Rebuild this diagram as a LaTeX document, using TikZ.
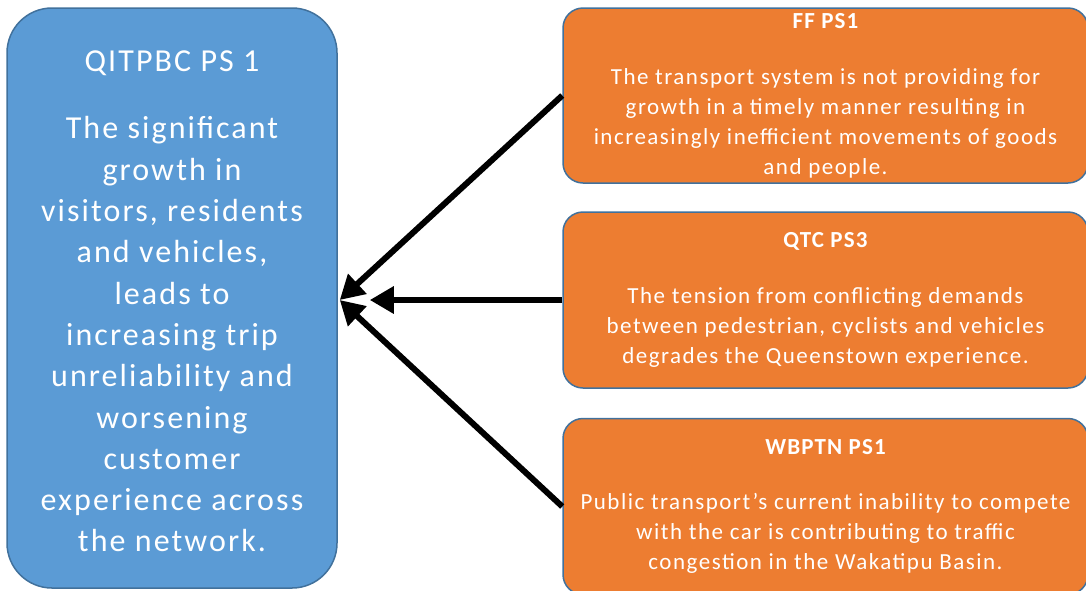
\documentclass[tikz,border=0pt]{standalone}
\usepackage{fontspec}
\setmainfont{Carlito}
\newfontfamily\spacedfont[LetterSpace=6.5]{Carlito}
\newfontfamily\boldttl[LetterSpace=5]{Carlito}
\usetikzlibrary{arrows.meta}
\definecolor{boxblue}{HTML}{5B9BD5}
\definecolor{edgeblue}{HTML}{41719C}
\definecolor{boxorange}{HTML}{ED7D31}
\newcommand{\bigfnt}{\spacedfont\fontsize{32}{41.3}\selectfont}
\newcommand{\smallfnt}{\spacedfont\fontsize{23}{29.8}\selectfont}
\newcommand{\ttlfnt}{\boldttl\fontsize{23}{30}\selectfont\bfseries}
\tikzset{
  bigbox/.style={draw=edgeblue,fill=boxblue,line width=1.5pt,rounded corners=45pt,
    minimum width=330pt,minimum height=580pt,inner sep=0pt},
  bigtext/.style={text=white,align=center,inner sep=0pt,font=\bigfnt},
  smallbox/.style={draw=edgeblue,fill=boxorange,line width=1.5pt,rounded corners=20pt,
    minimum width=525pt,minimum height=176pt,text=white,align=center,inner sep=0pt},
  conn/.style={line width=6pt,-{Triangle[length=24pt,width=26pt]}},
}
\begin{document}
\begin{tikzpicture}[x=1pt,y=-1pt]
\useasboundingbox (0,0) rectangle (1086,590);
\node[bigbox] (main) at (172,298) {};
\node[bigtext] (maintext) at ([yshift=-3.5pt]main.center) {QITPBC PS 1\\[26pt]
The significant\\ growth in\\ visitors, residents\\ and vehicles,\\ leads to\\ increasing trip\\ unreliability and\\ worsening\\ customer\\ experience across\\ the network.};
\node[smallbox,minimum height=175pt,font=\smallfnt] (ff) at (825.5,95.5) {\ttlfnt FF PS1\\[27pt]
\smallfnt The transport system is not providing for\\ growth in a timely manner resulting in\\ increasingly inefficient movements of goods\\ and people.};
\node[smallbox,font=\smallfnt] (qtc) at (825.5,300) {\ttlfnt QTC PS3\\[26pt]
\smallfnt The tension from conflicting demands\\ between pedestrian, cyclists and vehicles\\ degrades the Queenstown experience.};
\node[smallbox,font=\smallfnt] (wb) at (825.5,506.5) {\ttlfnt WBPTN PS1\\[25pt]
\smallfnt Public transport’s current inability to compete\\ with the car is contributing to traffic\\ congestion in the Wakatipu Basin.};
\draw[conn] (ff.west) -- ([xshift=2pt,yshift=-2pt]main.east);
\draw[conn] (qtc.west) -- ([xshift=32pt,yshift=-2pt]main.east);
\draw[conn] (wb.west) -- ([xshift=2pt,yshift=-2pt]main.east);
\end{tikzpicture}
\end{document}
